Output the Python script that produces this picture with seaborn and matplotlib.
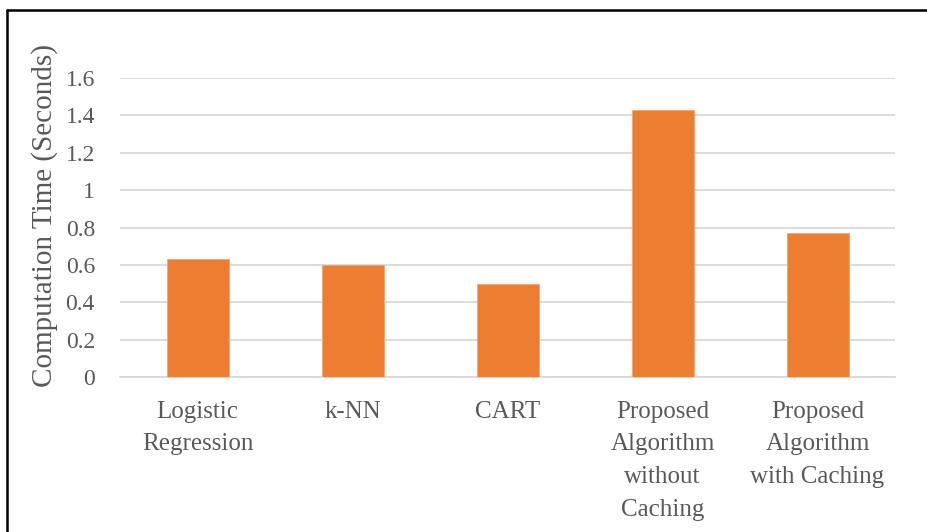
import matplotlib
matplotlib.use("Agg")
import matplotlib.pyplot as plt
from matplotlib.lines import Line2D
import seaborn as sns
import pandas as pd

# chart data
methods = ["Logistic\nRegression", "k-NN", "CART",
           "Proposed\nAlgorithm\nwithout\nCaching", "Proposed\nAlgorithm\nwith Caching"]
times = [0.63, 0.60, 0.50, 1.43, 0.77]
yticks = [0, 0.2, 0.4, 0.6, 0.8, 1, 1.2, 1.4, 1.6]
ytick_labels = ["0", "0.2", "0.4", "0.6", "0.8", "1", "1.2", "1.4", "1.6"]

df = pd.DataFrame({"method": methods, "time": times})

sns.set_theme(style="white")
plt.rcParams["font.family"] = ["Liberation Serif", "DejaVu Serif"]

text_col = "#595959"
grid_col = "#D9D9D9"

fig = plt.figure(figsize=(9.27, 5.32), dpi=100)
ax = fig.add_axes([120 / 927, 1 - 377 / 532, 775 / 927, (377 - 78) / 532])

sns.barplot(data=df, x="method", y="time", color="#ED7D31", width=0.4,
            saturation=1, edgecolor="#F4A470", linewidth=0.6, ax=ax, zorder=3)

ax.set_ylim(0, 1.6)
ax.set_xlim(-0.5, len(methods) - 0.5)
ax.set_yticks(yticks)
ax.set_yticklabels(ytick_labels)
ax.yaxis.grid(True, color=grid_col, linewidth=1.3, zorder=0)
ax.set_axisbelow(True)
for s in ["top", "right", "left"]:
    ax.spines[s].set_visible(False)
ax.spines["bottom"].set_color(grid_col)
ax.spines["bottom"].set_linewidth(1.3)

ax.tick_params(axis="y", length=0, pad=18, labelsize=17, labelcolor=text_col)
ax.tick_params(axis="x", length=0, pad=17, labelsize=18, labelcolor=text_col)
for lbl in ax.get_xticklabels():
    lbl.set_linespacing(1.63)
    lbl.set_ha("center")

ax.set_xlabel("")
ax.set_ylabel("Computation Time (Seconds)", fontsize=21, color=text_col)
ax.yaxis.set_label_coords(-0.080, 0.54)

# outer frame (left and top edges visible)
fig.add_artist(Line2D([6.5 / 927, 6.5 / 927], [0, 1 - 9.5 / 532], color="black",
                      linewidth=1.8, transform=fig.transFigure))
fig.add_artist(Line2D([6.5 / 927, 1], [1 - 9.5 / 532, 1 - 9.5 / 532], color="black",
                      linewidth=1.8, transform=fig.transFigure))

fig.savefig("out.png", dpi=100)
